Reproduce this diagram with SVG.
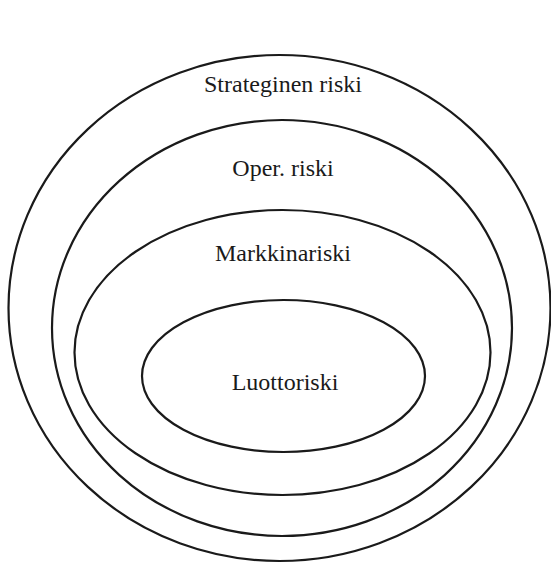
<svg xmlns="http://www.w3.org/2000/svg" width="551" height="564" viewBox="0 0 551 564">
<style>
.e{fill:none;stroke:#1a1a1a;stroke-width:2.2}
.t{font-family:"Liberation Serif","Times New Roman",serif;font-size:24px;fill:#1a1a1a;text-anchor:middle}
</style>
<rect width="551" height="564" fill="#fff"/>
<g id="strateginen">
<ellipse class="e" cx="279.5" cy="308" rx="271" ry="253"/>
<text class="t" x="283" y="92">Strateginen riski</text>
</g>
<g id="oper">
<ellipse class="e" cx="282" cy="328" rx="230" ry="208"/>
<text class="t" x="283" y="176">Oper. riski</text>
</g>
<g id="markkina">
<ellipse class="e" cx="282.5" cy="352.5" rx="208" ry="142.5"/>
<text class="t" x="283" y="261">Markkinariski</text>
</g>
<g id="luotto">
<ellipse class="e" cx="283.5" cy="376" rx="141.5" ry="76"/>
<text class="t" x="285" y="390">Luottoriski</text>
</g>
<g id="connectors"/>
</svg>
